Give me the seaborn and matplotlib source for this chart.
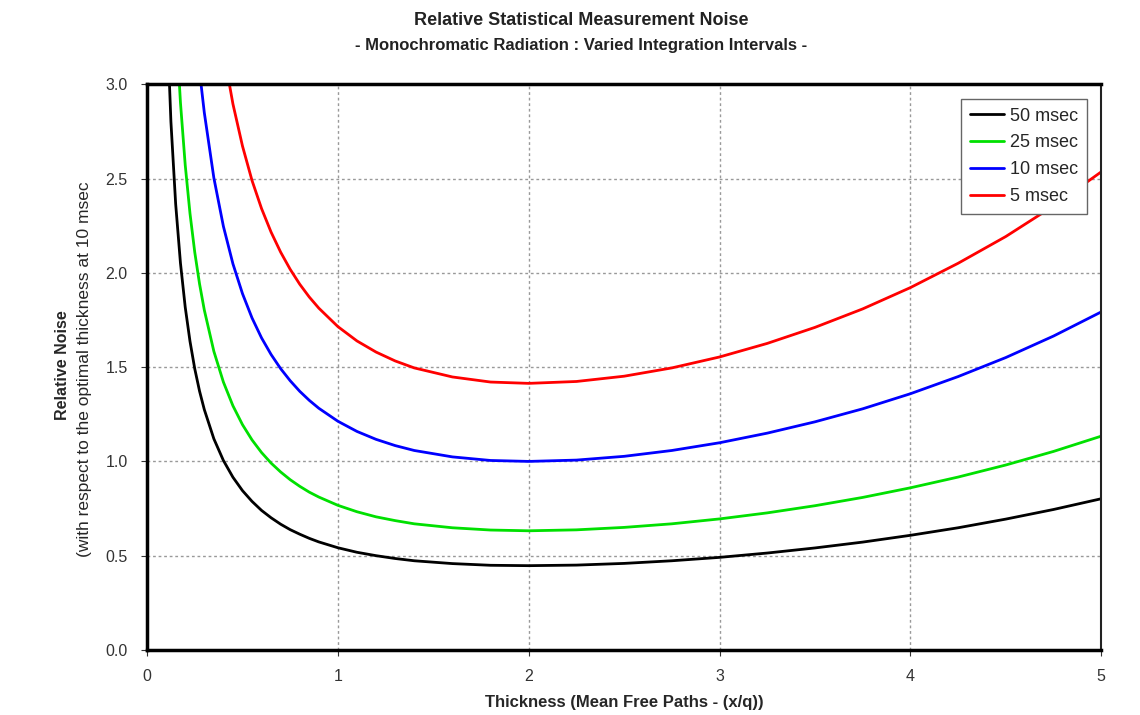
import numpy as np
import pandas as pd
import matplotlib
matplotlib.use("Agg")
import matplotlib.pyplot as plt
import seaborn as sns

# Valeurs (épaisseur en libres parcours moyens)
thickness = [0.10, 0.125, 0.15, 0.175, 0.20, 0.225, 0.25, 0.275, 0.30, 0.35, 0.40, 0.45,
             0.50, 0.55, 0.60, 0.65, 0.70, 0.75, 0.80, 0.85, 0.90, 1.0, 1.1, 1.2, 1.3,
             1.4, 1.6, 1.8, 2.0, 2.25, 2.5, 2.75, 3.0, 3.25, 3.5, 3.75, 4.0, 4.25, 4.5,
             4.75, 5.0]

noise_50 = [3.459, 2.802, 2.364, 2.052, 1.818, 1.637, 1.491, 1.373, 1.275, 1.120, 1.005, 0.916,
            0.845, 0.788, 0.740, 0.701, 0.667, 0.638, 0.614, 0.592, 0.573, 0.542, 0.518, 0.500, 0.485,
            0.473, 0.458, 0.449, 0.447, 0.450, 0.459, 0.473, 0.491, 0.514, 0.541, 0.572, 0.608, 0.648,
            0.694, 0.745, 0.802]
noise_25 = [4.892, 3.963, 3.344, 2.903, 2.572, 2.315, 2.109, 1.942, 1.803, 1.584, 1.421, 1.295,
            1.195, 1.114, 1.047, 0.991, 0.944, 0.903, 0.868, 0.837, 0.811, 0.767, 0.733, 0.706, 0.686,
            0.669, 0.648, 0.636, 0.632, 0.637, 0.650, 0.669, 0.695, 0.727, 0.765, 0.809, 0.860, 0.917,
            0.981, 1.053, 1.134]
noise_10 = [7.735, 6.266, 5.287, 4.589, 4.066, 3.660, 3.335, 3.070, 2.850, 2.504, 2.247, 2.048,
            1.890, 1.761, 1.655, 1.567, 1.492, 1.428, 1.372, 1.324, 1.282, 1.213, 1.159, 1.117, 1.084,
            1.058, 1.024, 1.005, 1.000, 1.007, 1.027, 1.058, 1.099, 1.150, 1.210, 1.279, 1.359, 1.450,
            1.551, 1.665, 1.793]
noise_5 = [10.94, 8.861, 7.477, 6.490, 5.750, 5.176, 4.716, 4.342, 4.030, 3.541, 3.178, 2.896,
           2.673, 2.490, 2.341, 2.216, 2.110, 2.019, 1.940, 1.872, 1.813, 1.715, 1.639, 1.580, 1.533,
           1.496, 1.448, 1.421, 1.414, 1.424, 1.452, 1.496, 1.554, 1.626, 1.711, 1.809, 1.922, 2.051,
           2.193, 2.355, 2.536]

series_labels = ["50 msec", "25 msec", "10 msec", "5 msec"]
series_colors = ["#000000", "#00e000", "#0000ff", "#ff0000"]

frames = []
for label, vals in zip(series_labels, [noise_50, noise_25, noise_10, noise_5]):
    frames.append(pd.DataFrame({"Thickness": thickness, "Noise": vals, "Interval": label}))
data = pd.concat(frames, ignore_index=True)

sns.set_style("white")
plt.rcParams['font.family'] = ['Liberation Sans', 'DejaVu Sans']

fig = plt.figure(figsize=(11.4, 7.15), dpi=100)
ax = fig.add_axes([0.129, 0.091, 0.837, 0.791])

sns.lineplot(data=data, x="Thickness", y="Noise", hue="Interval",
             hue_order=series_labels, palette=series_colors,
             linewidth=2, sort=False, ax=ax)

ax.set_xlim(0, 5)
ax.set_ylim(0, 3.0)
ax.set_xticks([0, 1, 2, 3, 4, 5])
ax.set_yticks([0.0, 0.5, 1.0, 1.5, 2.0, 2.5, 3.0])
ax.set_yticklabels([f"{v:.1f}" for v in [0.0, 0.5, 1.0, 1.5, 2.0, 2.5, 3.0]])
ax.tick_params(axis='both', labelsize=11.5, colors='#333333', length=4,
               direction='out', bottom=True, left=True, pad=10)
ax.grid(True, linestyle=(0, (2, 2)), color='#999999', linewidth=1)

for side in ['left', 'bottom', 'top']:
    ax.spines[side].set_linewidth(2.5)
    ax.spines[side].set_color('black')
ax.spines['right'].set_linewidth(1.5)
ax.spines['right'].set_color('#222222')

ax.set_xlabel("Thickness (Mean Free Paths - (x/q))", fontsize=12, fontweight='bold', labelpad=8)
ax.set_ylabel("")

fig.text(0.055, 0.49, "Relative Noise", rotation=90, ha='center', va='center',
         fontsize=11.5, fontweight='bold')
fig.text(0.074, 0.483, "(with respect to the optimal thickness at 10 msec", rotation=90,
         ha='center', va='center', fontsize=12.5)

fig.text(0.51, 0.972, "Relative Statistical Measurement Noise", ha='center', va='center',
         fontsize=13, fontweight='bold', color='#222222')
fig.text(0.51, 0.937, "- Monochromatic Radiation : Varied Integration Intervals -",
         ha='center', va='center', fontsize=12, fontweight='bold', color='#222222')

leg = ax.legend(loc='upper right', bbox_to_anchor=(0.985, 0.975), borderaxespad=0,
                fontsize=13, frameon=True, fancybox=False, edgecolor='#666666',
                framealpha=1, handlelength=1.9, handletextpad=0.3, borderpad=0.5,
                labelspacing=0.55)
leg.get_frame().set_linewidth(1)

fig.savefig("out.png", dpi=100)
